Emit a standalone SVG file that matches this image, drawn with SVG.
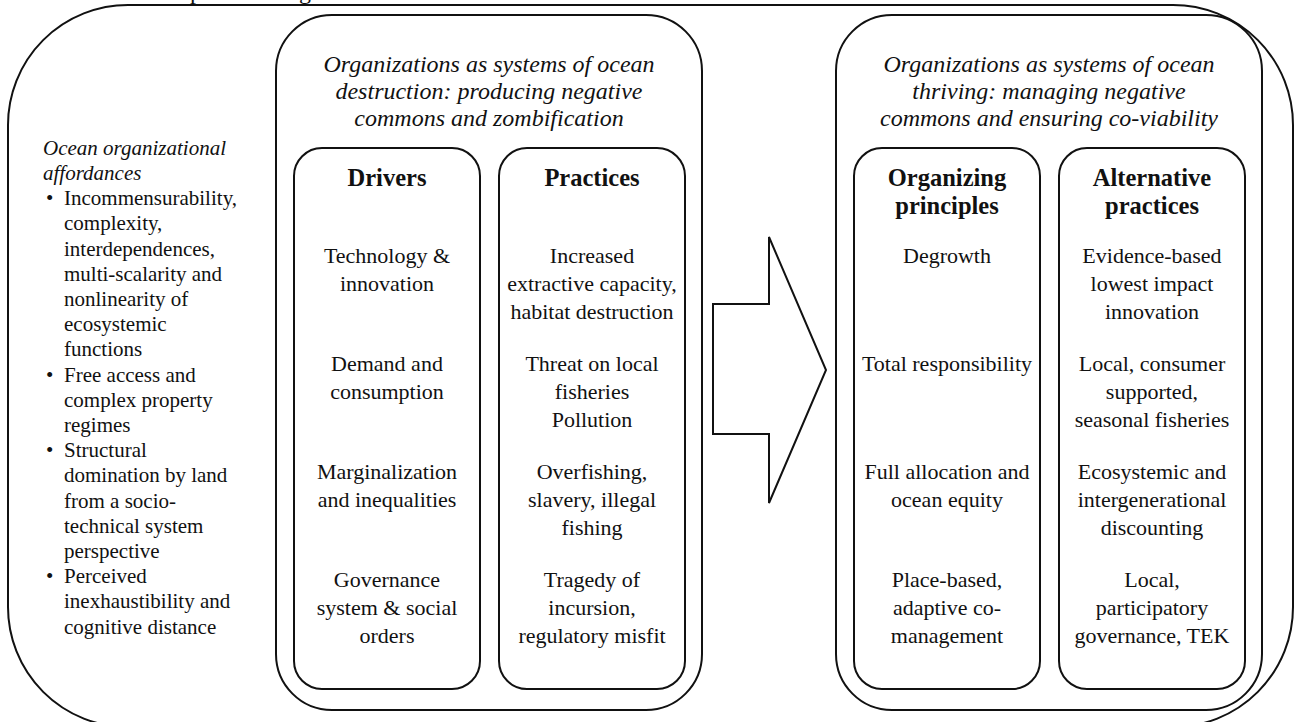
<svg xmlns="http://www.w3.org/2000/svg" width="1296" height="722" viewBox="0 0 1296 722">
<style>
.box{fill:none;stroke:#111;stroke-width:2}
.t{font-family:"Liberation Serif","Times New Roman",serif;fill:#111}
.body{font-size:22px;text-anchor:middle}
.hd{font-size:24.5px;font-weight:bold;text-anchor:middle}
.ttl{font-size:24px;font-style:italic;text-anchor:middle}
.lc{font-size:21px}
.lci{font-size:21px;font-style:italic}
</style>
<rect width="1296" height="722" fill="#fff"/>
<text class="t" style="font-size:24px" y="-1"><tspan x="190">p</tspan><tspan x="299">g</tspan></text>
<g id="outer">
<rect class="box" x="8" y="5" width="1285" height="722" rx="120" ry="120"/>
</g>
<g id="affordances">
<text class="t lci" x="43" y="155">Ocean organizational</text>
<text class="t lci" x="43" y="180">affordances</text>
<g class="t lc">
<text x="46" y="205">•</text>
<text x="64" y="205">Incommensurability,</text>
<text x="64" y="230">complexity,</text>
<text x="64" y="256">interdependences,</text>
<text x="64" y="281">multi-scalarity and</text>
<text x="64" y="306">nonlinearity of</text>
<text x="64" y="331">ecosystemic</text>
<text x="64" y="356">functions</text>
<text x="46" y="382">•</text>
<text x="64" y="382">Free access and</text>
<text x="64" y="407">complex property</text>
<text x="64" y="432">regimes</text>
<text x="46" y="457">•</text>
<text x="64" y="457">Structural</text>
<text x="64" y="482">domination by land</text>
<text x="64" y="508">from a socio-</text>
<text x="64" y="533">technical system</text>
<text x="64" y="558">perspective</text>
<text x="46" y="583">•</text>
<text x="64" y="583">Perceived</text>
<text x="64" y="608">inexhaustibility and</text>
<text x="64" y="634">cognitive distance</text>
</g>
</g>
<g id="destruction">
<rect class="box" x="276" y="15" width="426" height="695" rx="56" ry="56"/>
<text class="t ttl" x="489" y="72">Organizations as systems of ocean</text>
<text class="t ttl" x="489" y="99">destruction: producing negative</text>
<text class="t ttl" x="489" y="126">commons and zombification</text>
</g>
<g id="drivers">
<rect class="box" x="294" y="148" width="186" height="541" rx="28" ry="28"/>
<text class="t hd" x="387" y="186">Drivers</text>
<g class="t body">
<text x="387" y="263">Technology &amp;</text>
<text x="387" y="291">innovation</text>
<text x="387" y="371">Demand and</text>
<text x="387" y="399">consumption</text>
<text x="387" y="479">Marginalization</text>
<text x="387" y="507">and inequalities</text>
<text x="387" y="587">Governance</text>
<text x="387" y="615">system &amp; social</text>
<text x="387" y="643">orders</text>
</g>
</g>
<g id="practices">
<rect class="box" x="499" y="148" width="186" height="541" rx="28" ry="28"/>
<text class="t hd" x="592" y="186">Practices</text>
<g class="t body">
<text x="592" y="263">Increased</text>
<text x="592" y="291">extractive capacity,</text>
<text x="592" y="319">habitat destruction</text>
<text x="592" y="371">Threat on local</text>
<text x="592" y="399">fisheries</text>
<text x="592" y="427">Pollution</text>
<text x="592" y="479">Overfishing,</text>
<text x="592" y="507">slavery, illegal</text>
<text x="592" y="535">fishing</text>
<text x="592" y="587">Tragedy of</text>
<text x="592" y="615">incursion,</text>
<text x="592" y="643">regulatory misfit</text>
</g>
</g>
<g id="connectors">
<polygon class="box" points="713,304 769,304 769,237 826,370 769,503 769,434 713,434"/>
</g>
<g id="thriving">
<rect class="box" x="836" y="15" width="426" height="695" rx="56" ry="56"/>
<text class="t ttl" x="1049" y="72">Organizations as systems of ocean</text>
<text class="t ttl" x="1049" y="99">thriving: managing negative</text>
<text class="t ttl" x="1049" y="126">commons and ensuring co-viability</text>
</g>
<g id="organizing">
<rect class="box" x="854" y="148" width="186" height="541" rx="28" ry="28"/>
<text class="t hd" x="947" y="186">Organizing</text>
<text class="t hd" x="947" y="214">principles</text>
<g class="t body">
<text x="947" y="263">Degrowth</text>
<text x="947" y="371">Total responsibility</text>
<text x="947" y="479">Full allocation and</text>
<text x="947" y="507">ocean equity</text>
<text x="947" y="587">Place-based,</text>
<text x="947" y="615">adaptive co-</text>
<text x="947" y="643">management</text>
</g>
</g>
<g id="alternative">
<rect class="box" x="1059" y="148" width="186" height="541" rx="28" ry="28"/>
<text class="t hd" x="1152" y="186">Alternative</text>
<text class="t hd" x="1152" y="214">practices</text>
<g class="t body">
<text x="1152" y="263">Evidence-based</text>
<text x="1152" y="291">lowest impact</text>
<text x="1152" y="319">innovation</text>
<text x="1152" y="371">Local, consumer</text>
<text x="1152" y="399">supported,</text>
<text x="1152" y="427">seasonal fisheries</text>
<text x="1152" y="479">Ecosystemic and</text>
<text x="1152" y="507">intergenerational</text>
<text x="1152" y="535">discounting</text>
<text x="1152" y="587">Local,</text>
<text x="1152" y="615">participatory</text>
<text x="1152" y="643">governance, TEK</text>
</g>
</g>
</svg>
